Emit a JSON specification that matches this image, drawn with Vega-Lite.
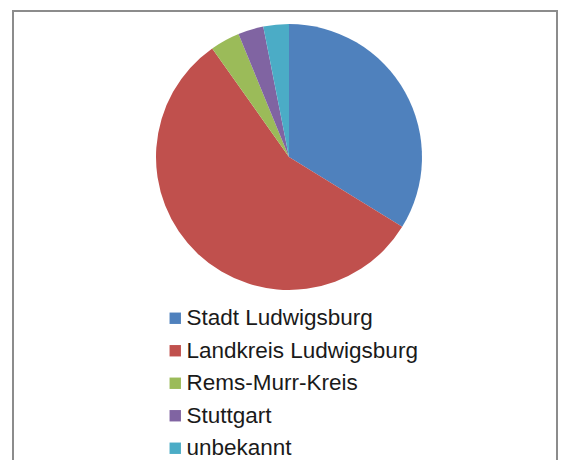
{
  "$schema": "https://vega.github.io/schema/vega-lite/v6.json",
  "width": 544,
  "height": 470,
  "autosize": {"type": "none"},
  "padding": {"left": 13, "top": 11, "right": 4, "bottom": 0},
  "background": "#ffffff",
  "view": {"stroke": "#8c8c8c", "strokeWidth": 2},
  "data": {
    "values": [
      {"region": "Stadt Ludwigsburg", "share": 33.8, "order": 1},
      {"region": "Landkreis Ludwigsburg", "share": 56.4, "order": 2},
      {"region": "Rems-Murr-Kreis", "share": 3.6, "order": 3},
      {"region": "Stuttgart", "share": 3.1, "order": 4},
      {"region": "unbekannt", "share": 3.1, "order": 5}
    ]
  },
  "mark": {"type": "arc", "outerRadius": 133, "x": 276, "y": 146},
  "encoding": {
    "theta": {"field": "share", "type": "quantitative", "stack": true},
    "order": {"field": "order", "type": "quantitative"},
    "color": {
      "field": "region",
      "type": "nominal",
      "sort": ["Stadt Ludwigsburg", "Landkreis Ludwigsburg", "Rems-Murr-Kreis", "Stuttgart", "unbekannt"],
      "scale": {
        "domain": ["Stadt Ludwigsburg", "Landkreis Ludwigsburg", "Rems-Murr-Kreis", "Stuttgart", "unbekannt"],
        "range": ["#4f81bd", "#c0504d", "#9bbb59", "#8064a2", "#4bacc6"]
      },
      "legend": {
        "title": null,
        "orient": "none",
        "legendX": 151,
        "legendY": 296,
        "symbolType": "square",
        "symbolSize": 130,
        "symbolStrokeWidth": 0,
        "labelFont": "Liberation Sans",
        "labelFontSize": 22.5,
        "labelColor": "#1a1a1a",
        "labelOffset": 0,
        "rowPadding": 9.5,
        "labelLimit": 400
      }
    }
  },
  "config": {"font": "Liberation Sans"}
}
